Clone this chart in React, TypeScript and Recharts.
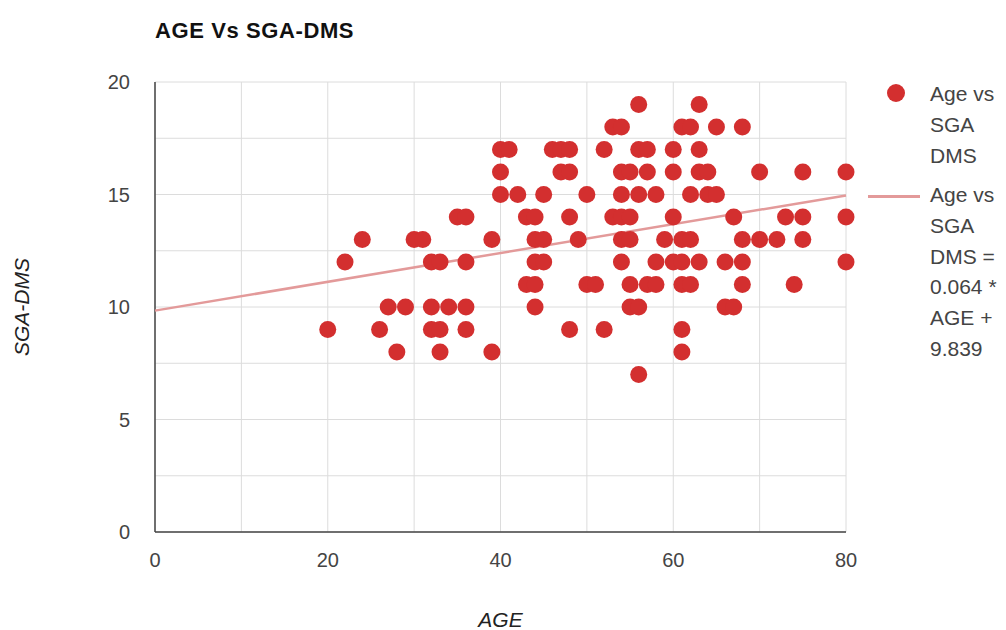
import { ScatterChart, Scatter, XAxis, YAxis, CartesianGrid } from 'recharts';

// AGE values, read row by row (one row per SGA-DMS level)
const ages = [
  56, 63,
  53, 54, 61, 62, 65, 68,
  40, 41, 46, 47, 48, 52, 56, 57, 60, 63,
  40, 47, 48, 54, 55, 57, 60, 63, 64, 70, 75, 80,
  40, 42, 45, 50, 54, 56, 58, 62, 64, 65,
  35, 36, 43, 44, 48, 53, 54, 55, 60, 67, 73, 75, 80,
  24, 30, 31, 39, 44, 45, 49, 54, 55, 59, 61, 62, 68, 70, 72, 75,
  22, 32, 33, 36, 44, 45, 54, 58, 60, 61, 63, 66, 68, 80,
  43, 44, 50, 51, 55, 57, 58, 61, 62, 68, 74,
  27, 29, 32, 34, 36, 44, 55, 56, 66, 67,
  20, 26, 32, 33, 36, 48, 52, 61,
  28, 33, 39, 61,
  56,
];

const sgaDms = [
  19, 19,
  18, 18, 18, 18, 18, 18,
  17, 17, 17, 17, 17, 17, 17, 17, 17, 17,
  16, 16, 16, 16, 16, 16, 16, 16, 16, 16, 16, 16,
  15, 15, 15, 15, 15, 15, 15, 15, 15, 15,
  14, 14, 14, 14, 14, 14, 14, 14, 14, 14, 14, 14, 14,
  13, 13, 13, 13, 13, 13, 13, 13, 13, 13, 13, 13, 13, 13, 13, 13,
  12, 12, 12, 12, 12, 12, 12, 12, 12, 12, 12, 12, 12, 12,
  11, 11, 11, 11, 11, 11, 11, 11, 11, 11, 11,
  10, 10, 10, 10, 10, 10, 10, 10, 10, 10,
  9, 9, 9, 9, 9, 9, 9, 9,
  8, 8, 8, 8,
  7,
];

// trendline end points: 0.064 * AGE + 9.839
const trendAge = [0, 80];
const trendSga = [9.839, 14.959];

const xTicks = [0, 10, 20, 30, 40, 50, 60, 70, 80];
const yTicks = [0, 2.5, 5, 7.5, 10, 12.5, 15, 17.5, 20];

const points = ages.map((a, i) => ({ age: a, sga: sgaDms[i] }));
const trend = trendAge.map((a, i) => ({ age: a, sga: trendSga[i] }));

const DOT = '#d32f2f';
const TREND = '#e39a9a';
const FONT = '"Liberation Sans", Arial, sans-serif';

const Dot = (props: any) => <circle cx={props.cx} cy={props.cy} r={8.5} fill={DOT} />;

export default function App() {
  const legendText = { fontSize: 21, color: '#444', lineHeight: '30.8px', fontFamily: FONT };
  return (
    <div style={{ position: 'absolute', left: 0, top: 0, width: 1006, height: 630, background: '#fff', fontFamily: FONT }}>
      <div style={{ position: 'absolute', left: 155, top: 18, fontSize: 22, fontWeight: 'bold', color: '#111', letterSpacing: 0.6 }}>
        AGE Vs SGA-DMS
      </div>
      <ScatterChart width={1006} height={630} margin={{ top: 82, right: 160, bottom: 0, left: 0 }}>
        <CartesianGrid stroke="#dcdcdc" strokeWidth={1} />
        <XAxis
          type="number"
          dataKey="age"
          domain={[0, 80]}
          ticks={xTicks}
          tickFormatter={(v) => (v % 20 === 0 ? String(v) : '')}
          height={98}
          tickLine={false}
          tickMargin={15}
          axisLine={{ stroke: '#444', strokeWidth: 1.5 }}
          tick={{ fontSize: 20, fill: '#444', fontFamily: FONT }}
          label={{ value: 'AGE', position: 'insideBottom', offset: 3, style: { fontSize: 21, fontStyle: 'italic', fill: '#222', fontFamily: FONT } }}
        />
        <YAxis
          type="number"
          dataKey="sga"
          domain={[0, 20]}
          ticks={yTicks}
          tickFormatter={(v) => (v % 5 === 0 ? String(v) : '')}
          width={155}
          tickLine={false}
          tickMargin={19}
          axisLine={{ stroke: '#444', strokeWidth: 1.5 }}
          tick={{ fontSize: 20, fill: '#444', fontFamily: FONT }}
          label={{ value: 'SGA-DMS', angle: -90, position: 'insideLeft', offset: 22, style: { textAnchor: 'middle', fontSize: 21, fontStyle: 'italic', fill: '#222', fontFamily: FONT } }}
        />
        <Scatter data={trend} line={{ stroke: TREND, strokeWidth: 2.5 }} shape={() => <g />} isAnimationActive={false} />
        <Scatter data={points} fill={DOT} shape={Dot} isAnimationActive={false} />
      </ScatterChart>
      <div style={{ position: 'absolute', left: 887, top: 84, width: 18, height: 18, borderRadius: 9, background: DOT }} />
      <div style={{ position: 'absolute', left: 930, top: 79, ...legendText }}>
        Age vs<br />SGA<br />DMS
      </div>
      <div style={{ position: 'absolute', left: 868, top: 195, width: 52, height: 2.5, background: TREND }} />
      <div style={{ position: 'absolute', left: 930, top: 180, ...legendText }}>
        Age vs<br />SGA<br />DMS =<br />0.064 *<br />AGE +<br />9.839
      </div>
    </div>
  );
}
